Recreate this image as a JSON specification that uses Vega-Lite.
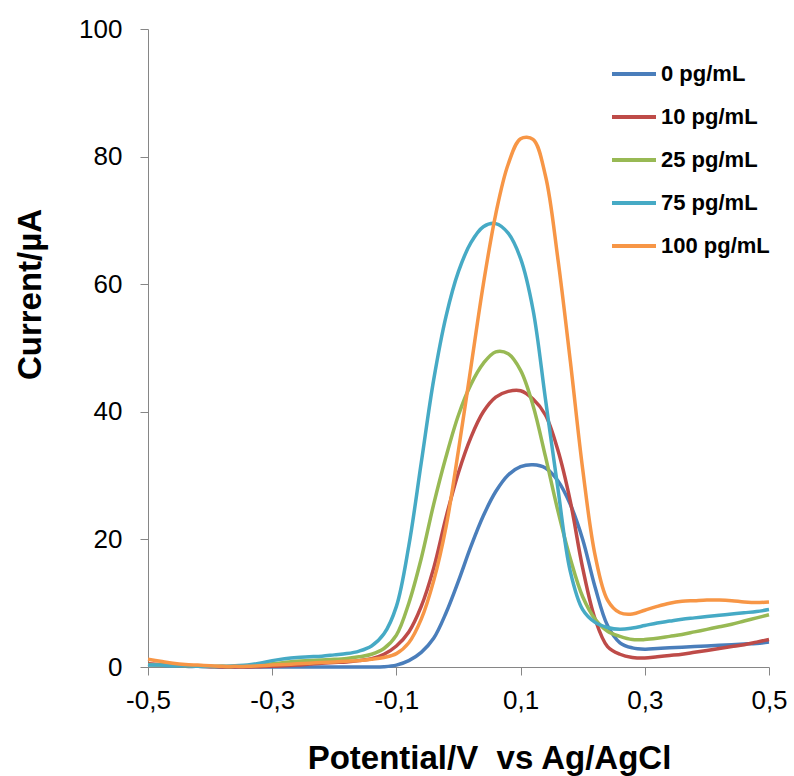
{
  "$schema": "https://vega.github.io/schema/vega-lite/v6.json",
  "width": 621,
  "height": 638,
  "autosize": {"type": "none"},
  "padding": {"left": 148, "top": 29, "right": 25, "bottom": 109},
  "background": "white",
  "config": {
    "view": {"stroke": null},
    "font": "Liberation Sans",
    "axis": {"grid": false, "domainColor": "#868686", "tickColor": "#868686", "tickSize": 8, "labelFont": "Liberation Sans", "labelFontSize": 26, "labelColor": "#000000", "titleFont": "Liberation Sans", "titleFontSize": 33, "titleFontWeight": "bold", "titleColor": "#000000"}
  },
  "datasets": {
    "curves": [
      {"s":"0 pg/mL","x":-0.5,"y":0.4},{"s":"0 pg/mL","x":-0.48,"y":0.3},{"s":"0 pg/mL","x":-0.46,"y":0.2},{"s":"0 pg/mL","x":-0.44,"y":0.1},{"s":"0 pg/mL","x":-0.42,"y":0.1},{"s":"0 pg/mL","x":-0.4,"y":0.05},{"s":"0 pg/mL","x":-0.38,"y":0},{"s":"0 pg/mL","x":-0.36,"y":0},{"s":"0 pg/mL","x":-0.34,"y":0},{"s":"0 pg/mL","x":-0.32,"y":0},{"s":"0 pg/mL","x":-0.3,"y":0},{"s":"0 pg/mL","x":-0.28,"y":0},{"s":"0 pg/mL","x":-0.26,"y":0},{"s":"0 pg/mL","x":-0.24,"y":0},{"s":"0 pg/mL","x":-0.22,"y":0},{"s":"0 pg/mL","x":-0.2,"y":0},{"s":"0 pg/mL","x":-0.18,"y":0},{"s":"0 pg/mL","x":-0.16,"y":0},{"s":"0 pg/mL","x":-0.14,"y":0},{"s":"0 pg/mL","x":-0.12,"y":0.05},{"s":"0 pg/mL","x":-0.1,"y":0.3},{"s":"0 pg/mL","x":-0.08,"y":1.0},{"s":"0 pg/mL","x":-0.06,"y":2.3},{"s":"0 pg/mL","x":-0.04,"y":4.5},{"s":"0 pg/mL","x":-0.02,"y":8.5},{"s":"0 pg/mL","x":0,"y":13.5},{"s":"0 pg/mL","x":0.02,"y":18.9},{"s":"0 pg/mL","x":0.04,"y":23.7},{"s":"0 pg/mL","x":0.06,"y":27.5},{"s":"0 pg/mL","x":0.08,"y":30.1},{"s":"0 pg/mL","x":0.1,"y":31.4},{"s":"0 pg/mL","x":0.12,"y":31.7},{"s":"0 pg/mL","x":0.14,"y":31.2},{"s":"0 pg/mL","x":0.16,"y":29.2},{"s":"0 pg/mL","x":0.18,"y":25.5},{"s":"0 pg/mL","x":0.2,"y":20},{"s":"0 pg/mL","x":0.22,"y":12.5},{"s":"0 pg/mL","x":0.24,"y":6.5},{"s":"0 pg/mL","x":0.26,"y":3.8},{"s":"0 pg/mL","x":0.28,"y":3.0},{"s":"0 pg/mL","x":0.3,"y":2.8},{"s":"0 pg/mL","x":0.32,"y":2.9},{"s":"0 pg/mL","x":0.34,"y":3.0},{"s":"0 pg/mL","x":0.36,"y":3.1},{"s":"0 pg/mL","x":0.38,"y":3.2},{"s":"0 pg/mL","x":0.4,"y":3.3},{"s":"0 pg/mL","x":0.42,"y":3.4},{"s":"0 pg/mL","x":0.44,"y":3.5},{"s":"0 pg/mL","x":0.46,"y":3.6},{"s":"0 pg/mL","x":0.48,"y":3.7},{"s":"0 pg/mL","x":0.5,"y":3.9},

      {"s":"10 pg/mL","x":-0.5,"y":0.5},{"s":"10 pg/mL","x":-0.48,"y":0.4},{"s":"10 pg/mL","x":-0.46,"y":0.3},{"s":"10 pg/mL","x":-0.44,"y":0.2},{"s":"10 pg/mL","x":-0.42,"y":0.1},{"s":"10 pg/mL","x":-0.4,"y":0.05},{"s":"10 pg/mL","x":-0.38,"y":0},{"s":"10 pg/mL","x":-0.36,"y":0},{"s":"10 pg/mL","x":-0.34,"y":0},{"s":"10 pg/mL","x":-0.32,"y":0.05},{"s":"10 pg/mL","x":-0.3,"y":0.1},{"s":"10 pg/mL","x":-0.28,"y":0.2},{"s":"10 pg/mL","x":-0.26,"y":0.3},{"s":"10 pg/mL","x":-0.24,"y":0.45},{"s":"10 pg/mL","x":-0.22,"y":0.6},{"s":"10 pg/mL","x":-0.2,"y":0.7},{"s":"10 pg/mL","x":-0.18,"y":0.8},{"s":"10 pg/mL","x":-0.16,"y":1.0},{"s":"10 pg/mL","x":-0.14,"y":1.3},{"s":"10 pg/mL","x":-0.12,"y":2.0},{"s":"10 pg/mL","x":-0.1,"y":3.3},{"s":"10 pg/mL","x":-0.08,"y":5.5},{"s":"10 pg/mL","x":-0.06,"y":9.5},{"s":"10 pg/mL","x":-0.04,"y":15.5},{"s":"10 pg/mL","x":-0.02,"y":23.5},{"s":"10 pg/mL","x":0,"y":30.5},{"s":"10 pg/mL","x":0.02,"y":36},{"s":"10 pg/mL","x":0.04,"y":40},{"s":"10 pg/mL","x":0.06,"y":42.3},{"s":"10 pg/mL","x":0.08,"y":43.2},{"s":"10 pg/mL","x":0.1,"y":43.3},{"s":"10 pg/mL","x":0.12,"y":42},{"s":"10 pg/mL","x":0.14,"y":39.5},{"s":"10 pg/mL","x":0.16,"y":34},{"s":"10 pg/mL","x":0.18,"y":26},{"s":"10 pg/mL","x":0.2,"y":15.5},{"s":"10 pg/mL","x":0.22,"y":7.5},{"s":"10 pg/mL","x":0.24,"y":3.2},{"s":"10 pg/mL","x":0.26,"y":2.0},{"s":"10 pg/mL","x":0.28,"y":1.5},{"s":"10 pg/mL","x":0.3,"y":1.4},{"s":"10 pg/mL","x":0.32,"y":1.6},{"s":"10 pg/mL","x":0.34,"y":1.8},{"s":"10 pg/mL","x":0.36,"y":2.0},{"s":"10 pg/mL","x":0.38,"y":2.3},{"s":"10 pg/mL","x":0.4,"y":2.6},{"s":"10 pg/mL","x":0.42,"y":2.9},{"s":"10 pg/mL","x":0.44,"y":3.2},{"s":"10 pg/mL","x":0.46,"y":3.5},{"s":"10 pg/mL","x":0.48,"y":3.9},{"s":"10 pg/mL","x":0.5,"y":4.3},

      {"s":"25 pg/mL","x":-0.5,"y":0.4},{"s":"25 pg/mL","x":-0.48,"y":0.3},{"s":"25 pg/mL","x":-0.46,"y":0.25},{"s":"25 pg/mL","x":-0.44,"y":0.2},{"s":"25 pg/mL","x":-0.42,"y":0.15},{"s":"25 pg/mL","x":-0.4,"y":0.1},{"s":"25 pg/mL","x":-0.38,"y":0.1},{"s":"25 pg/mL","x":-0.36,"y":0.1},{"s":"25 pg/mL","x":-0.34,"y":0.2},{"s":"25 pg/mL","x":-0.32,"y":0.3},{"s":"25 pg/mL","x":-0.3,"y":0.5},{"s":"25 pg/mL","x":-0.28,"y":0.7},{"s":"25 pg/mL","x":-0.26,"y":0.9},{"s":"25 pg/mL","x":-0.24,"y":1.0},{"s":"25 pg/mL","x":-0.22,"y":1.1},{"s":"25 pg/mL","x":-0.2,"y":1.2},{"s":"25 pg/mL","x":-0.18,"y":1.35},{"s":"25 pg/mL","x":-0.16,"y":1.6},{"s":"25 pg/mL","x":-0.14,"y":2.0},{"s":"25 pg/mL","x":-0.12,"y":2.9},{"s":"25 pg/mL","x":-0.1,"y":5.0},{"s":"25 pg/mL","x":-0.08,"y":10},{"s":"25 pg/mL","x":-0.06,"y":17},{"s":"25 pg/mL","x":-0.04,"y":25.5},{"s":"25 pg/mL","x":-0.02,"y":33},{"s":"25 pg/mL","x":0,"y":39.5},{"s":"25 pg/mL","x":0.02,"y":44.3},{"s":"25 pg/mL","x":0.04,"y":47.6},{"s":"25 pg/mL","x":0.06,"y":49.4},{"s":"25 pg/mL","x":0.08,"y":49.1},{"s":"25 pg/mL","x":0.1,"y":46.5},{"s":"25 pg/mL","x":0.12,"y":41},{"s":"25 pg/mL","x":0.14,"y":33},{"s":"25 pg/mL","x":0.16,"y":24.5},{"s":"25 pg/mL","x":0.18,"y":17},{"s":"25 pg/mL","x":0.2,"y":11},{"s":"25 pg/mL","x":0.22,"y":7.5},{"s":"25 pg/mL","x":0.24,"y":5.6},{"s":"25 pg/mL","x":0.26,"y":4.8},{"s":"25 pg/mL","x":0.28,"y":4.3},{"s":"25 pg/mL","x":0.3,"y":4.3},{"s":"25 pg/mL","x":0.32,"y":4.5},{"s":"25 pg/mL","x":0.34,"y":4.8},{"s":"25 pg/mL","x":0.36,"y":5.1},{"s":"25 pg/mL","x":0.38,"y":5.5},{"s":"25 pg/mL","x":0.4,"y":5.9},{"s":"25 pg/mL","x":0.42,"y":6.3},{"s":"25 pg/mL","x":0.44,"y":6.7},{"s":"25 pg/mL","x":0.46,"y":7.2},{"s":"25 pg/mL","x":0.48,"y":7.7},{"s":"25 pg/mL","x":0.5,"y":8.2},

      {"s":"75 pg/mL","x":-0.5,"y":0.3},{"s":"75 pg/mL","x":-0.48,"y":0.3},{"s":"75 pg/mL","x":-0.46,"y":0.2},{"s":"75 pg/mL","x":-0.44,"y":0.2},{"s":"75 pg/mL","x":-0.42,"y":0.1},{"s":"75 pg/mL","x":-0.4,"y":0.1},{"s":"75 pg/mL","x":-0.38,"y":0.1},{"s":"75 pg/mL","x":-0.36,"y":0.2},{"s":"75 pg/mL","x":-0.34,"y":0.3},{"s":"75 pg/mL","x":-0.32,"y":0.6},{"s":"75 pg/mL","x":-0.3,"y":1.0},{"s":"75 pg/mL","x":-0.28,"y":1.3},{"s":"75 pg/mL","x":-0.26,"y":1.5},{"s":"75 pg/mL","x":-0.24,"y":1.6},{"s":"75 pg/mL","x":-0.22,"y":1.7},{"s":"75 pg/mL","x":-0.2,"y":1.9},{"s":"75 pg/mL","x":-0.18,"y":2.1},{"s":"75 pg/mL","x":-0.16,"y":2.5},{"s":"75 pg/mL","x":-0.14,"y":3.3},{"s":"75 pg/mL","x":-0.12,"y":5.2},{"s":"75 pg/mL","x":-0.1,"y":9.5},{"s":"75 pg/mL","x":-0.08,"y":19},{"s":"75 pg/mL","x":-0.06,"y":32},{"s":"75 pg/mL","x":-0.04,"y":45},{"s":"75 pg/mL","x":-0.02,"y":55},{"s":"75 pg/mL","x":0,"y":62},{"s":"75 pg/mL","x":0.02,"y":66.5},{"s":"75 pg/mL","x":0.04,"y":69},{"s":"75 pg/mL","x":0.06,"y":69.5},{"s":"75 pg/mL","x":0.08,"y":68},{"s":"75 pg/mL","x":0.1,"y":64},{"s":"75 pg/mL","x":0.12,"y":56},{"s":"75 pg/mL","x":0.14,"y":42},{"s":"75 pg/mL","x":0.16,"y":28},{"s":"75 pg/mL","x":0.18,"y":15},{"s":"75 pg/mL","x":0.2,"y":9.0},{"s":"75 pg/mL","x":0.22,"y":7.0},{"s":"75 pg/mL","x":0.24,"y":6.2},{"s":"75 pg/mL","x":0.26,"y":5.9},{"s":"75 pg/mL","x":0.28,"y":6.1},{"s":"75 pg/mL","x":0.3,"y":6.5},{"s":"75 pg/mL","x":0.32,"y":6.9},{"s":"75 pg/mL","x":0.34,"y":7.2},{"s":"75 pg/mL","x":0.36,"y":7.5},{"s":"75 pg/mL","x":0.38,"y":7.7},{"s":"75 pg/mL","x":0.4,"y":7.9},{"s":"75 pg/mL","x":0.42,"y":8.1},{"s":"75 pg/mL","x":0.44,"y":8.3},{"s":"75 pg/mL","x":0.46,"y":8.5},{"s":"75 pg/mL","x":0.48,"y":8.7},{"s":"75 pg/mL","x":0.5,"y":9.0},

      {"s":"100 pg/mL","x":-0.5,"y":1.2},{"s":"100 pg/mL","x":-0.48,"y":0.9},{"s":"100 pg/mL","x":-0.46,"y":0.6},{"s":"100 pg/mL","x":-0.44,"y":0.4},{"s":"100 pg/mL","x":-0.42,"y":0.3},{"s":"100 pg/mL","x":-0.4,"y":0.2},{"s":"100 pg/mL","x":-0.38,"y":0.1},{"s":"100 pg/mL","x":-0.36,"y":0.1},{"s":"100 pg/mL","x":-0.34,"y":0.1},{"s":"100 pg/mL","x":-0.32,"y":0.2},{"s":"100 pg/mL","x":-0.3,"y":0.3},{"s":"100 pg/mL","x":-0.28,"y":0.4},{"s":"100 pg/mL","x":-0.26,"y":0.5},{"s":"100 pg/mL","x":-0.24,"y":0.6},{"s":"100 pg/mL","x":-0.22,"y":0.7},{"s":"100 pg/mL","x":-0.2,"y":0.8},{"s":"100 pg/mL","x":-0.18,"y":0.9},{"s":"100 pg/mL","x":-0.16,"y":1.0},{"s":"100 pg/mL","x":-0.14,"y":1.2},{"s":"100 pg/mL","x":-0.12,"y":1.5},{"s":"100 pg/mL","x":-0.1,"y":2.1},{"s":"100 pg/mL","x":-0.08,"y":3.8},{"s":"100 pg/mL","x":-0.06,"y":7.5},{"s":"100 pg/mL","x":-0.04,"y":13.5},{"s":"100 pg/mL","x":-0.02,"y":22},{"s":"100 pg/mL","x":0,"y":34},{"s":"100 pg/mL","x":0.02,"y":47},{"s":"100 pg/mL","x":0.04,"y":60},{"s":"100 pg/mL","x":0.06,"y":71},{"s":"100 pg/mL","x":0.08,"y":78.8},{"s":"100 pg/mL","x":0.1,"y":82.8},{"s":"100 pg/mL","x":0.12,"y":82.7},{"s":"100 pg/mL","x":0.14,"y":77},{"s":"100 pg/mL","x":0.16,"y":64},{"s":"100 pg/mL","x":0.18,"y":48},{"s":"100 pg/mL","x":0.2,"y":31},{"s":"100 pg/mL","x":0.22,"y":17.5},{"s":"100 pg/mL","x":0.24,"y":10.5},{"s":"100 pg/mL","x":0.26,"y":8.5},{"s":"100 pg/mL","x":0.28,"y":8.3},{"s":"100 pg/mL","x":0.3,"y":8.9},{"s":"100 pg/mL","x":0.32,"y":9.5},{"s":"100 pg/mL","x":0.34,"y":10.0},{"s":"100 pg/mL","x":0.36,"y":10.3},{"s":"100 pg/mL","x":0.38,"y":10.4},{"s":"100 pg/mL","x":0.4,"y":10.5},{"s":"100 pg/mL","x":0.42,"y":10.5},{"s":"100 pg/mL","x":0.44,"y":10.4},{"s":"100 pg/mL","x":0.46,"y":10.2},{"s":"100 pg/mL","x":0.48,"y":10.1},{"s":"100 pg/mL","x":0.5,"y":10.2}
    ]
  },
  "data": {"name": "curves"},
  "mark": {"type": "line", "interpolate": "catmull-rom", "strokeWidth": 3.5},
  "encoding": {
    "x": {
      "field": "x", "type": "quantitative",
      "scale": {"domain": [-0.5, 0.5], "nice": false, "zero": false},
      "axis": {
        "values": [-0.5, -0.3, -0.1, 0.1, 0.3, 0.5],
        "labelExpr": "replace(replace(format(datum.value, '.1f'), '−', '-'), '.', ',')",
        "labelFlush": false,
        "labelPadding": 12,
        "title": "Potential/V\u00a0 vs Ag/AgCl",
        "titleX": 341,
        "titleY": 101,
        "titleBaseline": "alphabetic",
        "titleAnchor": "middle"
      }
    },
    "y": {
      "field": "y", "type": "quantitative",
      "scale": {"domain": [0, 100], "nice": false},
      "axis": {
        "values": [0, 20, 40, 60, 80, 100],
        "labelPadding": 18,
        "title": "Current/µA",
        "titleX": -108,
        "titleY": 265,
        "titleBaseline": "alphabetic",
        "titleAnchor": "middle"
      }
    },
    "color": {
      "field": "s", "type": "nominal",
      "sort": ["0 pg/mL", "10 pg/mL", "25 pg/mL", "75 pg/mL", "100 pg/mL"],
      "scale": {
        "domain": ["0 pg/mL", "10 pg/mL", "25 pg/mL", "75 pg/mL", "100 pg/mL"],
        "range": ["#4A7EBB", "#BE4B48", "#98B954", "#46AAC5", "#F79646"]
      },
      "legend": {
        "title": null,
        "orient": "none",
        "legendX": 462,
        "legendY": 21,
        "padding": 0,
        "symbolType": "stroke",
        "symbolSize": 1936,
        "symbolStrokeWidth": 4,
        "labelFont": "Liberation Sans",
        "labelFontSize": 22,
        "labelFontWeight": "bold",
        "labelColor": "#000000",
        "labelOffset": 3,
        "rowPadding": 8
      }
    },
    "order": {"field": "x", "type": "quantitative"}
  }
}
